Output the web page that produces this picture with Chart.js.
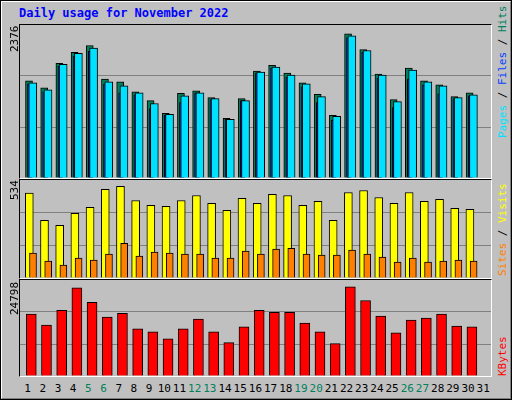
<!DOCTYPE html>
<html>
<head>
<meta charset="utf-8">
<script src="https://cdn.jsdelivr.net/npm/chart.js@4"></script>
<style>
  body { margin: 0; width: 512px; height: 400px; overflow: hidden; font-family: "DejaVu Sans Mono", monospace; }
  .frame { position: absolute; left: 0; top: 0; width: 508px; height: 396px; background: #c0c0c0;
    border-left: 2px solid #fff; border-top: 2px solid #fff; border-right: 2px solid #808080; border-bottom: 2px solid #808080; }
  .outer { position: absolute; left: 0; top: 0; border: 1px solid #000; box-sizing: border-box; width: 512px; height: 400px; pointer-events: none; }
  .panel { position: absolute; left: 19px; width: 471px; border-top: 1px solid #000; border-left: 1px solid #000;
    border-right: 1px solid #fff; border-bottom: 1px solid #fff; }
  .panel canvas { display: block; }
  .title { position: absolute; left: 19px; top: 6px; color: #0000ff; font-weight: bold; font-size: 12px; }
  .ylab { position: absolute; font-size: 11px; transform: rotate(-90deg); transform-origin: left top; white-space: nowrap; }
  .rlab { position: absolute; left: 496px; font-size: 11px; transform: rotate(-90deg); transform-origin: left top; white-space: nowrap; }
  .days { position: absolute; left: 20px; top: 382px; width: 471px; display: flex; font-size: 11px; }
  .days span { flex: 1; text-align: center; }
</style>
</head>
<body>
<div class="frame"></div>
<div class="outer"></div>
<div class="title">Daily usage for November 2022</div>
<div class="panel" style="top:24px;height:153px"><canvas id="top-chart"></canvas></div>
<div class="panel" style="top:179px;height:98px"><canvas id="mid-chart"></canvas></div>
<div class="panel" style="top:279px;height:96px"><canvas id="bot-chart"></canvas></div>
<div class="ylab" style="left:8px;top:52px">2376</div>
<div class="ylab" style="left:8px;top:200px">534</div>
<div class="ylab" style="left:8px;top:315px">24798</div>
<div class="rlab" style="top:138px"><span style="color:#00e0ff">Pages</span> / <span style="color:#0040ff">Files</span> / <span style="color:#00805c">Hits</span></div>
<div class="rlab" style="top:276px"><span style="color:#ff8000">Sites</span> / <span style="color:#ffff00">Visits</span></div>
<div class="rlab" style="top:376px"><span style="color:#ff0000">KBytes</span></div>
<div class="days" id="days"></div>
<script>
const days = Array.from({ length: 31 }, (_, i) => i + 1);
const weekendDays = [5, 6, 12, 13, 19, 20, 26, 27];

const hits = [1553, 1442, 1836, 2009, 2119, 1584, 1537, 1379, 1238, 1033, 1353, 1395, 1285, 955, 1269,
  1710, 1804, 1678, 1521, 1337, 1002, 2308, 2056, 1663, 1254, 1757, 1553, 1490, 1301, 1364, 0];
const files = [1505, 1379, 1789, 1946, 2025, 1505, 1364, 1332, 1112, 1002, 1206, 1364, 1254, 939, 1238,
  1678, 1757, 1615, 1458, 1206, 923, 2245, 2009, 1600, 1128, 1584, 1490, 1348, 1269, 1316, 0];
const pages = [1521, 1411, 1820, 1993, 2077, 1537, 1474, 1364, 1191, 1018, 1316, 1364, 1269, 939, 1238,
  1694, 1773, 1647, 1505, 1301, 986, 2276, 2040, 1647, 1222, 1726, 1537, 1474, 1285, 1332, 0];
const visits = [476, 324, 296, 363, 396, 497, 514, 435, 408, 402, 435, 463, 419, 380, 447,
  419, 469, 463, 408, 430, 324, 480, 491, 452, 419, 480, 430, 441, 391, 385, 0];
const sites = [140, 95, 73, 112, 100, 134, 195, 123, 145, 140, 134, 134, 112, 112, 151,
  134, 162, 167, 134, 128, 128, 156, 134, 117, 89, 112, 89, 95, 100, 95, 0];
const kbytes = [16443, 13572, 17487, 23490, 19575, 15660, 16704, 12528, 11745, 9918, 12528, 15138, 11745, 8874, 13050,
  17487, 16965, 16965, 14094, 11745, 8613, 23751, 20097, 15921, 11484, 14877, 15399, 16443, 13311, 13050, 0];

const daysRow = document.getElementById('days');
days.forEach(d => {
  const s = document.createElement('span');
  s.textContent = d;
  s.style.color = weekendDays.includes(d) ? '#00805c' : '#000';
  daysRow.appendChild(s);
});

const slotPx = 471 / 31;

// slot starts at the left edge of each day; shift the bar centre right by shiftPx
function xAxis(shiftPx) {
  const d = shiftPx / slotPx;
  return { type: 'linear', display: false, offset: false, min: 1 - d, max: 32 - d };
}

function series(values, color, width, axis, order) {
  return {
    data: values.map((v, i) => ({ x: days[i], y: v })),
    backgroundColor: color, borderColor: '#000', borderWidth: 1, borderSkipped: 'bottom',
    barThickness: width, xAxisID: axis, order: order, grouped: false
  };
}

function makeChart(id, height, max, datasets, axes) {
  const canvas = document.getElementById(id);
  canvas.width = 471; canvas.height = height;
  const scales = { y: {
    min: 0, max: max, display: true,
    ticks: { display: false },
    afterBuildTicks: axis => { axis.ticks = [0, 1, 2, 3].map(k => ({ value: max * k / 3 })); },
    grid: { color: ctx => ctx.tick.value > 0 && ctx.tick.value < max ? '#808080' : 'rgba(0,0,0,0)', drawTicks: false, lineWidth: 1 },
    border: { display: false }
  } };
  Object.assign(scales, axes);
  return new Chart(canvas, {
    type: 'bar',
    data: { datasets: datasets },
    options: {
      responsive: false, animation: false,
      layout: { padding: 0 },
      plugins: { legend: { display: false }, tooltip: { enabled: false } },
      scales: scales
    }
  });
}

makeChart('top-chart', 153, 2376 * 1.03, [
  series(hits, '#00805c', 7, 'xh', 3),
  series(files, '#0040ff', 4, 'xf', 2),
  series(pages, '#00e0ff', 8, 'xp', 1)
], { xh: xAxis(9), xf: xAxis(9.5), xp: xAxis(12.8) });

makeChart('mid-chart', 98, 534 * 1.03, [
  series(visits, '#ffff00', 8, 'xv', 2),
  series(sites, '#ff8000', 7, 'xs', 1)
], { xv: xAxis(9.3), xs: xAxis(13) });

makeChart('bot-chart', 96, 24798 * 1.03, [
  series(kbytes, '#ff0000', 10, 'xk', 1)
], { xk: xAxis(11.3) });
</script>
</body>
</html>
